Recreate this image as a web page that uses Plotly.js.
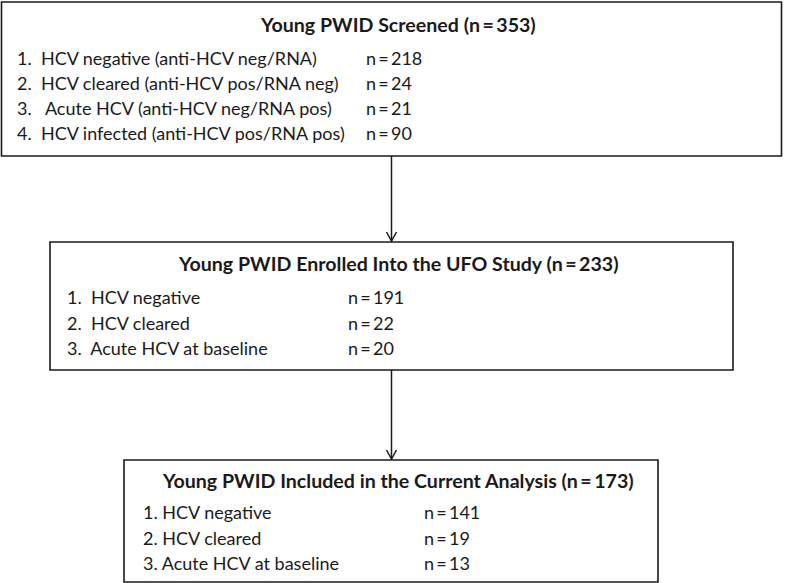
<!DOCTYPE html>
<html>
<head>
<meta charset="utf-8">
<script src="https://cdn.plot.ly/plotly-3.0.1.min.js"></script>
<style>html,body{margin:0;padding:0;background:#fff;}#chart{width:785px;height:583px;}</style>
</head>
<body>
<div id="chart"></div>
<script>
// ---- data ----
const stageTitles = ["Young PWID Screened", "Young PWID Enrolled Into the UFO Study", "Young PWID Included in the Current Analysis"];
const stageTotals = [353, 233, 173];
const screenedLabels = ["HCV negative (anti-HCV neg/RNA)", "HCV cleared (anti-HCV pos/RNA neg)", "Acute HCV (anti-HCV neg/RNA pos)", "HCV infected (anti-HCV pos/RNA pos)"];
const screenedCounts = [218, 24, 21, 90];
const enrolledLabels = ["HCV negative", "HCV cleared", "Acute HCV at baseline"];
const enrolledCounts = [191, 22, 20];
const includedLabels = ["HCV negative", "HCV cleared", "Acute HCV at baseline"];
const includedCounts = [141, 19, 13];

// ---- layout geometry (pixel coordinates on a 785x583 canvas) ----
const boxes = [
  {x0: 1.5, x1: 781.5, y0: 2, y1: 156, titleY: 24, rowY: [57.5, 82.5, 108, 133], labelX: 15, valueX: 364, sep: ["\u00A0 ", "\u00A0 ", "\u00A0\u00A0 ", "\u00A0 "]},
  {x0: 50, x1: 733, y0: 242, y1: 370, titleY: 263, rowY: [297, 323, 348], labelX: 65, valueX: 346, sep: ["\u00A0 ", "\u00A0 ", "\u00A0 "]},
  {x0: 124, x1: 658, y0: 460, y1: 582, titleY: 480, rowY: [512, 537.5, 563], labelX: 141, valueX: 421.5, sep: [" ", " ", " "]}
];
const arrowX = 391.5;
const labelSets = [screenedLabels, enrolledLabels, includedLabels];
const countSets = [screenedCounts, enrolledCounts, includedCounts];

const FONT = "Lato, 'Open Sans', sans-serif";
const ink = "#1a1a1a";
const shapes = [];
const annotations = [];
const nEq = v => "n\u2009=\u2009" + v;

boxes.forEach((b, i) => {
  shapes.push({type: "rect", xref: "x", yref: "y", x0: b.x0, x1: b.x1, y0: b.y0, y1: b.y1,
    line: {color: ink, width: 1.6}, fillcolor: "rgba(0,0,0,0)"});
  annotations.push({x: 398, y: b.titleY, xref: "x", yref: "y", showarrow: false,
    xanchor: "center", yanchor: "middle",
    text: "<b>" + stageTitles[i] + " (" + nEq(stageTotals[i]) + ")</b>",
    font: {family: FONT, size: 19.6, color: ink}});
  labelSets[i].forEach((lab, j) => {
    annotations.push({x: b.labelX, y: b.rowY[j], xref: "x", yref: "y", showarrow: false,
      xanchor: "left", yanchor: "middle", text: (j + 1) + "." + b.sep[j] + lab,
      font: {family: FONT, size: 18, color: ink}});
    annotations.push({x: b.valueX, y: b.rowY[j], xref: "x", yref: "y", showarrow: false,
      xanchor: "left", yanchor: "middle", text: nEq(countSets[i][j]),
      font: {family: FONT, size: 18, color: ink}});
  });
});

// connectors with open V heads
for (let i = 0; i < boxes.length - 1; i++) {
  const yTop = boxes[i].y1, yBot = boxes[i + 1].y0 - 1;
  shapes.push({type: "line", x0: arrowX, x1: arrowX, y0: yTop, y1: yBot, line: {color: ink, width: 1.5}});
  shapes.push({type: "path", path: `M ${arrowX - 5} ${yBot - 9} L ${arrowX} ${yBot} L ${arrowX + 5} ${yBot - 9}`,
    line: {color: ink, width: 1.5}});
}

const layout = {
  width: 785, height: 583,
  margin: {l: 0, r: 0, t: 0, b: 0},
  paper_bgcolor: "#fff", plot_bgcolor: "#fff",
  xaxis: {range: [0, 785], visible: false, fixedrange: true},
  yaxis: {range: [583, 0], visible: false, fixedrange: true},
  showlegend: false,
  shapes: shapes,
  annotations: annotations
};

Plotly.newPlot("chart", [], layout, {staticPlot: true, displayModeBar: false});
</script>
</body>
</html>
